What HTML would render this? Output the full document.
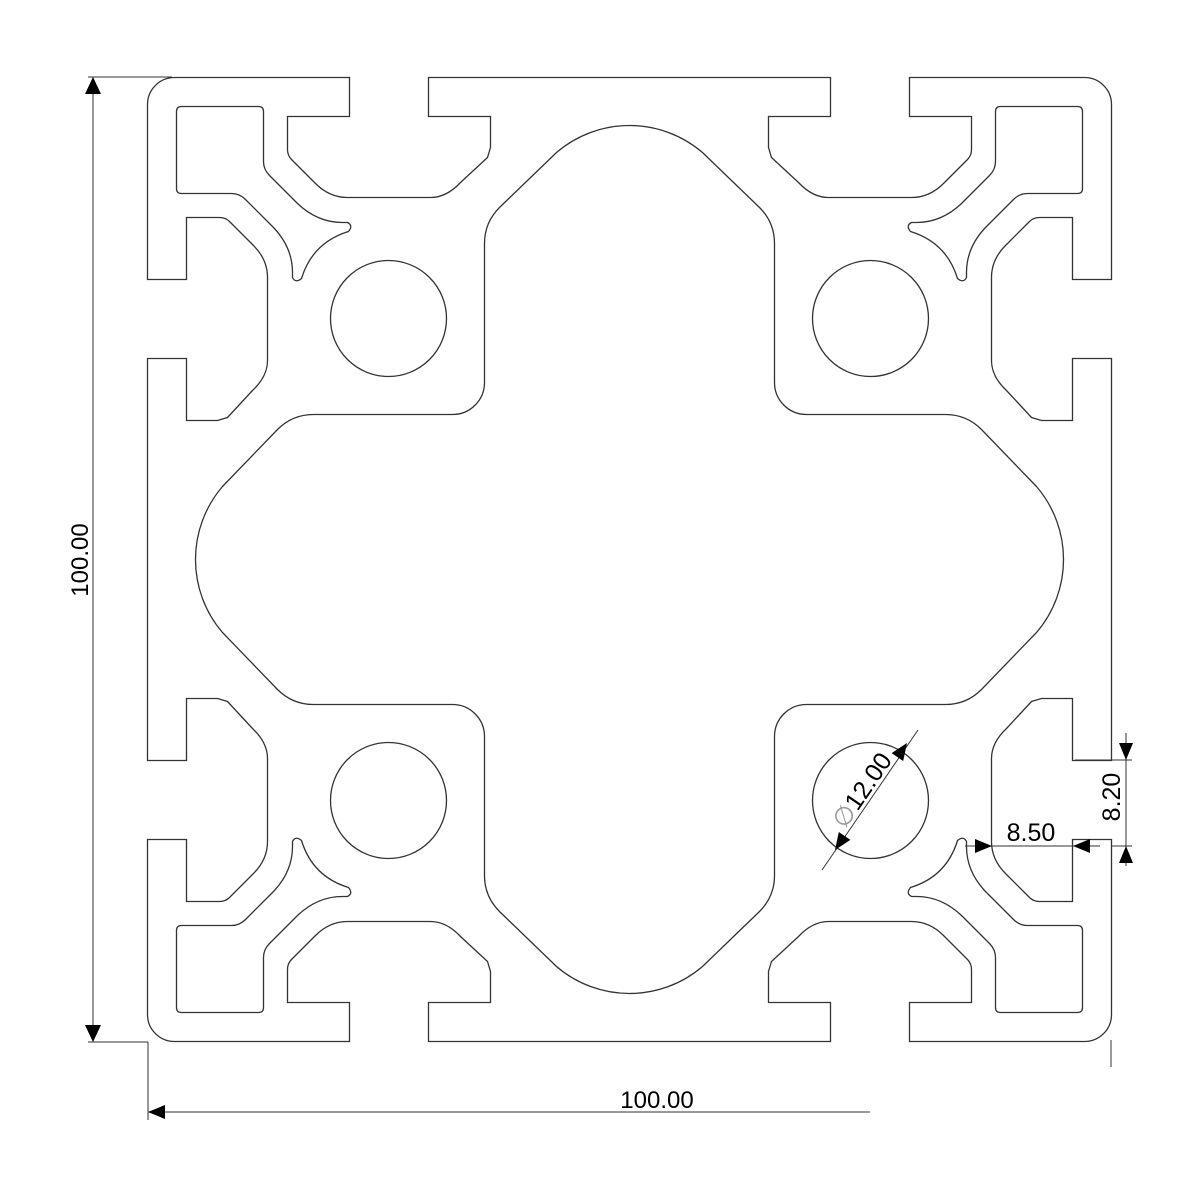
<!DOCTYPE html>
<html><head><meta charset="utf-8"><style>
html,body{margin:0;padding:0;background:#fff;}
svg{display:block;}
text{font-family:"Liberation Sans",sans-serif;fill:#000;}
</style></head><body>
<svg width="1200" height="1200" viewBox="0 0 1200 1200" xmlns="http://www.w3.org/2000/svg">
<defs>
<g id="q" fill="none" stroke="#333" stroke-width="1.3">
<path d="M0,-482 L-201,-482 L-201,-443 L-139,-443 L-139,-412 L-142,-402 L-169,-377 Q-183,-362 -199,-362 L-282,-362 Q-300,-362 -314,-376 L-338,-400 Q-342,-404 -342,-410 L-342,-443 L-280,-443 L-280,-482 L-455,-482 A27,27 0 0 0 -482,-455 L-482,-280 L-443,-280 L-443,-342 L-410,-342 Q-404,-342 -400,-338 L-376,-314 Q-362,-300 -362,-282 L-362,-199 Q-362,-183 -377,-169 L-402,-142 L-412,-139 L-443,-139 L-443,-201 L-482,-201 L-482,0"/>
<path d="M-453,-448 Q-453,-453 -448,-453 L-371,-453 Q-366,-453 -366,-448 L-366,-398 Q-366,-390 -360,-384 L-332,-356 Q-312,-337 -287,-337 L-282,-337 Q-276,-334 -281,-328 Q-317,-317 -328,-281 Q-334,-276 -337,-282 L-337,-287 Q-337,-312 -356,-332 L-384,-360 Q-390,-366 -398,-366 L-448,-366 Q-453,-366 -453,-371 Z"/>
<circle cx="-241" cy="-241" r="58"/>
<path d="M0,-434 A112,112 0 0 0 -73,-407 L-130,-352 Q-145,-337 -145,-316 L-145,-177 A32,32 0 0 1 -177,-145 L-316,-145 Q-337,-145 -352,-130 L-407,-73 A112,112 0 0 0 -434,0"/>
</g>
</defs>
<g transform="translate(629.5,559.5)">
<use href="#q"/>
<use href="#q" transform="scale(-1,1)"/>
<use href="#q" transform="scale(1,-1)"/>
<use href="#q" transform="scale(-1,-1)"/>
</g>
<g stroke="#333" stroke-width="1" fill="none">
<line x1="88" y1="77" x2="172" y2="77"/>
<line x1="88" y1="1042" x2="148" y2="1042"/>
<line x1="93" y1="77" x2="93" y2="1042"/>
<line x1="148" y1="1042" x2="148" y2="1120"/>
<line x1="148" y1="1112" x2="870" y2="1112"/>
<line x1="1111" y1="1040" x2="1111" y2="1067"/>
<line x1="1075" y1="760" x2="1132" y2="760"/>
<line x1="1111" y1="846" x2="1132" y2="846"/>
<line x1="1126" y1="733" x2="1126" y2="866"/>
<line x1="965" y1="846" x2="1100" y2="846"/>
<line x1="822" y1="870" x2="918" y2="730"/>
</g>
<g fill="#000">
<polygon points="93,77 85,94 101,94"/>
<polygon points="93,1042 85,1025 101,1025"/>
<polygon points="148,1112 165,1105 165,1119"/>
<polygon points="1126,760 1119,743 1133,743"/>
<polygon points="1126,846 1119,863 1133,863"/>
<polygon points="992,846 975,839 975,853"/>
<polygon points="1073,846 1090,839 1090,853"/>
<g transform="translate(835,850) rotate(-55.6)"><polygon points="0,0 -17,-7 -17,7" transform="rotate(180)"/></g>
<g transform="translate(907,743) rotate(-55.6)"><polygon points="0,0 -17,-7 -17,7"/></g>
</g>
<text x="657" y="1108" font-size="24" text-anchor="middle">100.00</text>
<text transform="translate(88,560) rotate(-90)" font-size="24" text-anchor="middle">100.00</text>
<text x="1031" y="841" font-size="25" text-anchor="middle">8.50</text>
<text transform="translate(1120,797) rotate(-90)" font-size="25" text-anchor="middle">8.20</text>
<text transform="translate(869,795) rotate(-55.6)" font-size="25" text-anchor="middle"><tspan fill="#999">∅</tspan>12.00</text>
</svg>
</body></html>
